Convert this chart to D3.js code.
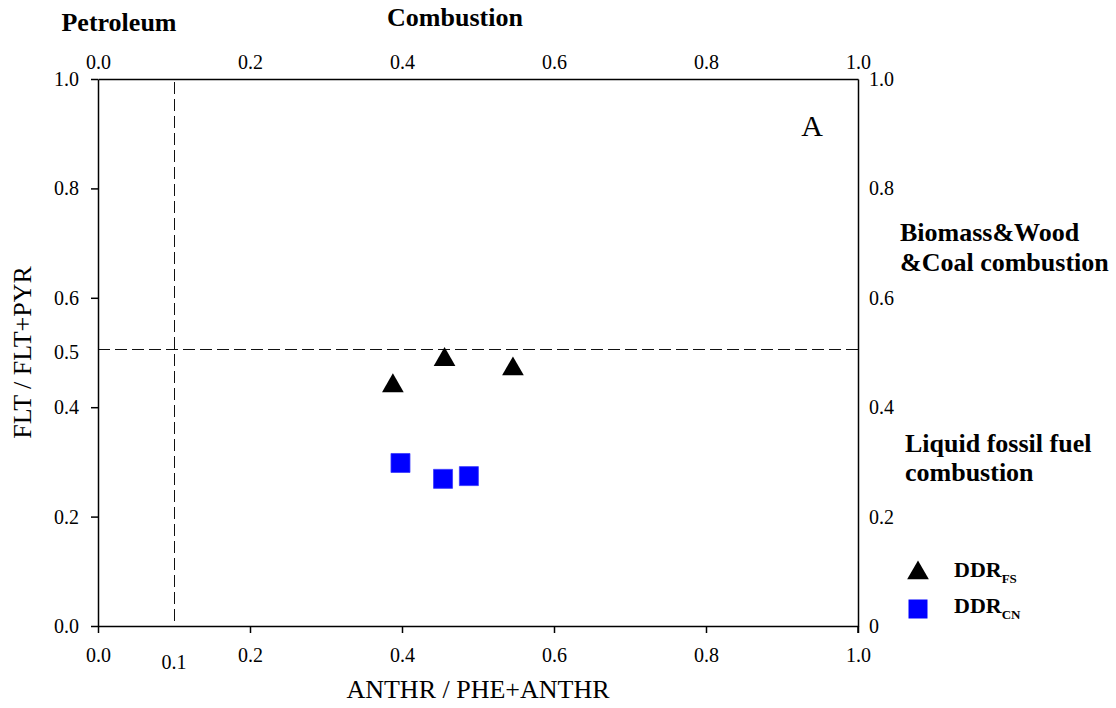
<!DOCTYPE html>
<html>
<head>
<meta charset="utf-8">
<script src="https://cdn.jsdelivr.net/npm/d3@7/dist/d3.min.js"></script>
<style>
  html, body { margin: 0; padding: 0; background: #fff; }
  svg { display: block; }
  text { font-family: "Liberation Serif", "Times New Roman", serif; fill: #000; }
</style>
</head>
<body>
<svg id="chart" width="1116" height="708"></svg>
<script>
// ---- data ----
const xTicks = [0.0, 0.2, 0.4, 0.6, 0.8, 1.0];
const yTicks = [0.0, 0.2, 0.4, 0.6, 0.8, 1.0];
const ddrFS_x = [0.388, 0.456, 0.546];
const ddrFS_y = [0.439, 0.487, 0.470];
const ddrCN_x = [0.398, 0.454, 0.488];
const ddrCN_y = [0.298, 0.269, 0.274];
const xThreshold = 0.1;
const yThreshold = 0.505;
const seriesNames = ["DDR", "DDR"];
const seriesSubs = ["FS", "CN"];

// ---- layout ----
const svg = d3.select("#chart");
const L = 98, R = 858, T = 79, B = 626;
const x = d3.scaleLinear().domain([0, 1]).range([L, R]);
const y = d3.scaleLinear().domain([0, 1]).range([B, T]);
const fmt = d3.format(".1f");

// dashed threshold lines
svg.append("line").attr("x1", x(xThreshold)).attr("x2", x(xThreshold))
  .attr("y1", y(1) + 3).attr("y2", y(0))
  .attr("stroke", "#111").attr("stroke-width", 1).attr("stroke-dasharray", "12,5")
  .attr("shape-rendering", "crispEdges");
svg.append("line").attr("x1", x(0)).attr("x2", x(1))
  .attr("y1", y(yThreshold)).attr("y2", y(yThreshold))
  .attr("stroke", "#111").attr("stroke-width", 1).attr("stroke-dasharray", "12,5")
  .attr("shape-rendering", "crispEdges");

// axes
const axStyle = g => {
  g.selectAll("path, line").attr("stroke", "#000").attr("stroke-width", 1.5);
  g.selectAll("text").attr("font-family", "Liberation Serif, Times New Roman, serif")
    .attr("font-size", 20).attr("fill", "#000");
};
svg.append("g").attr("transform", `translate(0,${B})`)
  .call(d3.axisBottom(x).tickValues(xTicks).tickFormat(fmt).tickSize(7).tickSizeOuter(0).tickPadding(15))
  .call(axStyle);
svg.append("g").attr("transform", `translate(${L},0)`)
  .call(d3.axisLeft(y).tickValues(yTicks).tickFormat(fmt).tickSize(7).tickSizeOuter(0).tickPadding(12))
  .call(axStyle);
svg.append("g").attr("transform", `translate(0,${T})`)
  .call(d3.axisTop(x).tickValues(xTicks).tickFormat(fmt).tickSize(0).tickSizeOuter(0).tickPadding(10))
  .call(axStyle);
svg.append("g").attr("transform", `translate(${R},0)`)
  .call(d3.axisRight(y).tickValues(yTicks).tickFormat(d => d === 0 ? "0" : fmt(d)).tickSize(0).tickSizeOuter(0).tickPadding(11))
  .call(axStyle);
svg.append("line").attr("x1", R).attr("x2", R).attr("y1", B).attr("y2", B + 7)
  .attr("stroke", "#000").attr("stroke-width", 1.5);

// extra labels 0.5 and 0.1
svg.append("text").attr("x", L - 19).attr("y", y(0.5)).attr("dy", "0.32em")
  .attr("text-anchor", "end").attr("font-size", 20).text("0.5");
svg.append("text").attr("x", x(0.1)).attr("y", B + 43)
  .attr("text-anchor", "middle").attr("font-size", 20).text("0.1");

// axis titles
svg.append("text").attr("x", (L + R) / 2).attr("y", 698)
  .attr("text-anchor", "middle").attr("font-size", 26).text("ANTHR / PHE+ANTHR");
svg.append("text").attr("transform", `translate(31,${(T + B) / 2}) rotate(-90)`)
  .attr("text-anchor", "middle").attr("font-size", 26).text("FLT / FLT+PYR");

// region labels
const bold = (t, xx, yy, anchor) => svg.append("text").attr("x", xx).attr("y", yy)
  .attr("text-anchor", anchor || "start").attr("font-weight", "bold").attr("font-size", 26).text(t);
bold("Petroleum", 119, 31, "middle");
bold("Combustion", 455, 26, "middle");
bold("Biomass&Wood", 900, 241);
bold("&Coal combustion", 900, 271);
bold("Liquid fossil fuel", 905, 452);
bold("combustion", 905, 481);

svg.append("text").attr("x", 812).attr("y", 136).attr("text-anchor", "middle")
  .attr("font-size", 30).text("A");

// points
const tri = d3.symbol().type(d3.symbolTriangle).size(204);
const sq = d3.symbol().type(d3.symbolSquare).size(361);
svg.append("g").selectAll("path").data(d3.range(ddrFS_x.length)).join("path")
  .attr("transform", i => `translate(${x(ddrFS_x[i])},${y(ddrFS_y[i])})`)
  .attr("d", tri).attr("fill", "#000");
svg.append("g").selectAll("path").data(d3.range(ddrCN_x.length)).join("path")
  .attr("transform", i => `translate(${x(ddrCN_x[i])},${y(ddrCN_y[i])})`)
  .attr("d", sq).attr("fill", "#0000ff").attr("stroke", "#3a3aff").attr("stroke-width", 0.8);

// legend
const leg = [{sym: tri, fill: "#000", cy: 573, ty: 577}, {sym: sq, fill: "#0000ff", cy: 609, ty: 613}];
leg.forEach((d, i) => {
  svg.append("path").attr("transform", `translate(918,${d.cy})`).attr("d", d.sym).attr("fill", d.fill);
  const t = svg.append("text").attr("x", 954).attr("y", d.ty).attr("font-weight", "bold").attr("font-size", 22);
  t.append("tspan").text(seriesNames[i]);
  t.append("tspan").attr("font-size", 13).attr("dy", 6).text(seriesSubs[i]);
});
</script>
</body>
</html>
